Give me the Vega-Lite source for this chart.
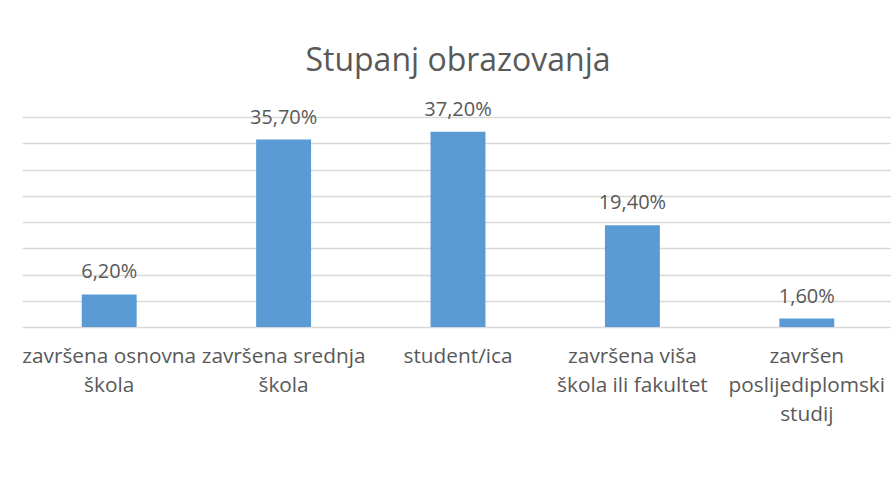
{
  "$schema": "https://vega.github.io/schema/vega-lite/v6.json",
  "autosize": {"type": "none"},
  "width": 872,
  "height": 210,
  "padding": {"left": 22, "top": 117, "right": 0, "bottom": 151},
  "background": "white",
  "config": {
    "view": {"stroke": null},
    "locale": {"number": {"decimal": ",", "thousands": ".", "grouping": [3], "currency": ["", " €"]}},
    "font": "Open Sans"
  },
  "title": {
    "text": "Stupanj obrazovanja",
    "font": "Open Sans",
    "fontSize": 32,
    "fontWeight": "normal",
    "color": "#595959",
    "anchor": "middle",
    "baseline": "alphabetic",
    "offset": -3
  },
  "data": {
    "values": [
      {"kategorija": "završena osnovna škola", "udio": 0.062},
      {"kategorija": "završena srednja škola", "udio": 0.357},
      {"kategorija": "student/ica", "udio": 0.372},
      {"kategorija": "završena viša škola ili fakultet", "udio": 0.194},
      {"kategorija": "završen poslijediplomski studij", "udio": 0.016}
    ]
  },
  "encoding": {
    "x": {
      "field": "kategorija",
      "type": "nominal",
      "sort": null,
      "scale": {"paddingInner": 0.685, "paddingOuter": 0.3425},
      "axis": {
        "title": null,
        "domain": false,
        "ticks": false,
        "labelAngle": 0,
        "labelFont": "Open Sans",
        "labelFontSize": 20.8,
        "labelColor": "#595959",
        "labelPadding": 19,
        "labelLineHeight": 29,
        "labelLimit": 300,
        "labelExpr": "datum.value === 'završena osnovna škola' ? ['završena osnovna', 'škola'] : datum.value === 'završena srednja škola' ? ['završena srednja', 'škola'] : datum.value === 'završena viša škola ili fakultet' ? ['završena viša', 'škola ili fakultet'] : datum.value === 'završen poslijediplomski studij' ? ['završen', 'poslijediplomski', 'studij'] : datum.value"
      }
    },
    "y": {
      "field": "udio",
      "type": "quantitative",
      "scale": {"domain": [0, 0.4], "nice": false},
      "axis": {
        "title": null,
        "labels": false,
        "ticks": false,
        "domain": false,
        "grid": true,
        "gridColor": "#d9d9d9",
        "gridWidth": 1.3,
        "values": [0, 0.05, 0.1, 0.15, 0.2, 0.25, 0.3, 0.35, 0.4]
      }
    }
  },
  "layer": [
    {"mark": {"type": "bar", "color": "#5b9bd5"}},
    {
      "mark": {"type": "text", "baseline": "alphabetic", "dy": -16, "font": "Open Sans", "fontSize": 20, "color": "#595959"},
      "encoding": {"text": {"field": "udio", "type": "quantitative", "format": ".2%"}}
    }
  ]
}
